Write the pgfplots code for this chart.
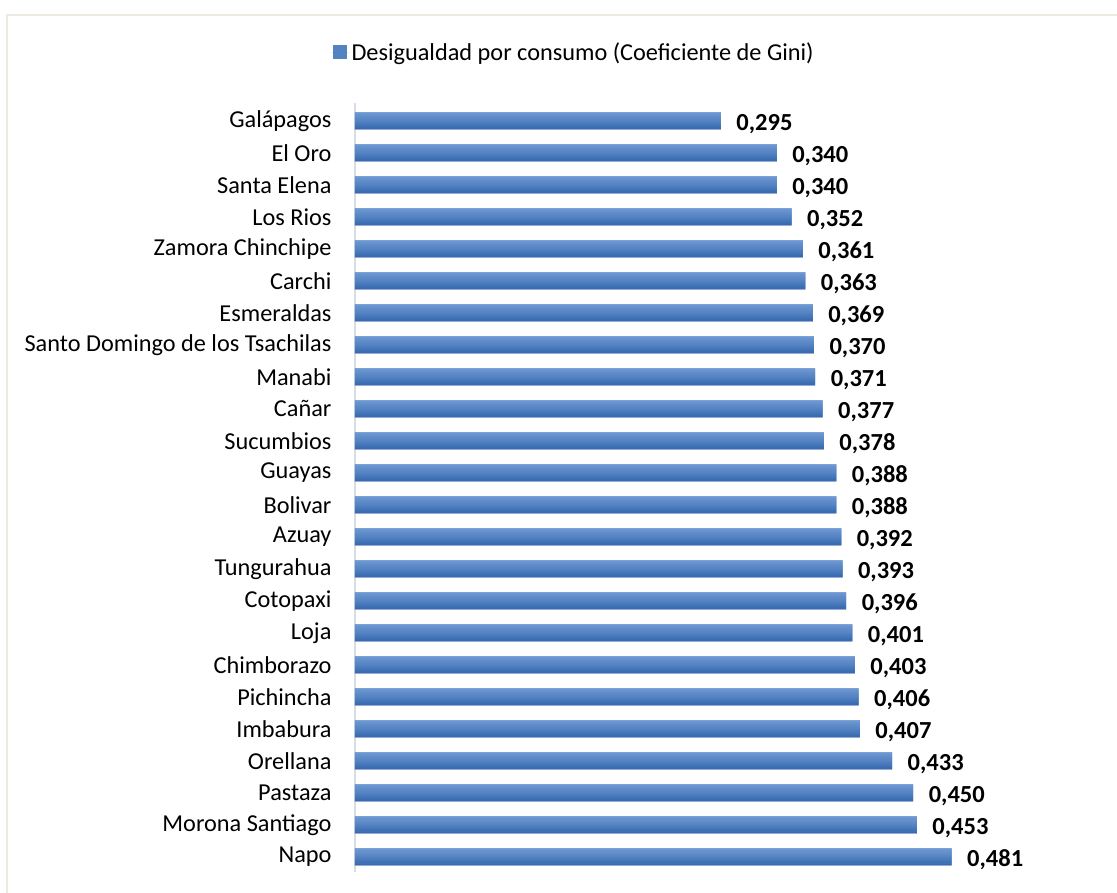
\documentclass[border=0pt]{standalone}
\usepackage{pgfplots}
\pgfplotsset{compat=1.18}
\usepackage{pgfplotstable}
\usepackage{fontspec}
\setmainfont{Carlito}
\definecolor{bartop}{HTML}{6F9AD3}
\definecolor{barbot}{HTML}{3A6BB1}
\definecolor{framec}{HTML}{EEEAE1}
\definecolor{axc}{HTML}{D6DEEA}
\pgfplotstableread{
x y lab
0.481 0 0,481
0.453 1 0,453
0.450 2 0,450
0.433 3 0,433
0.407 4 0,407
0.406 5 0,406
0.403 6 0,403
0.401 7 0,401
0.396 8 0,396
0.393 9 0,393
0.392 10 0,392
0.388 11 0,388
0.388 12 0,388
0.378 13 0,378
0.377 14 0,377
0.371 15 0,371
0.370 16 0,370
0.369 17 0,369
0.363 18 0,363
0.361 19 0,361
0.352 20 0,352
0.340 21 0,340
0.340 22 0,340
0.295 23 0,295
}\gini
\begin{document}
\begin{tikzpicture}[x=1pt,y=1pt]
\useasboundingbox (0,0) rectangle (1117,893);
\draw[framec, line width=2pt] (7,-5) -- (7,878) -- (1125,878);
\begin{axis}[
  at={(355pt,21pt)}, anchor=south west,
  scale only axis, width=686pt, height=769pt,
  xmin=0, xmax=0.553, ymin=-0.47, ymax=23.56,
  xbar, bar width=2.2pt,
  axis x line=none,
  axis y line*=left,
  y axis line style={axc, line width=1.6pt, -},
  ytick={0,...,23},
  yticklabels={Napo,Morona Santiago,Pastaza,Orellana,Imbabura,Pichincha,Chimborazo,Loja,Cotopaxi,Tungurahua,Azuay,Bolivar,Guayas,Sucumbios,Cañar,Manabi,Santo Domingo de los Tsachilas,Esmeraldas,Carchi,Zamora Chinchipe,Los Rios,Santa Elena,El Oro,Galápagos},
  yticklabel style={font=\fontsize{24.3}{28}\selectfont, text=black, xshift=-20pt},
  major tick length=0pt,
  point meta=explicit symbolic,
  nodes near coords style={font=\bfseries\fontsize{24.5}{28}\selectfont, anchor=west, xshift=12pt, yshift=-3pt, text=black},
  legend style={at={(0.318,1.066)}, anchor=center, draw=none, fill=none, font=\fontsize{24.3}{28}\selectfont, inner sep=0pt},
  legend image code/.code={\path (0pt,0pt) -- (19pt,0pt);\fill[bartop!50!barbot] (2pt,-7pt) rectangle (16pt,7pt);},
  clip=false,
]
\addplot[draw=none, fill=bartop!50!barbot, bar width=17pt, nodes near coords] table[x=x, y=y, meta=lab] {\gini};
\addlegendentry{Desigualdad por consumo (Coeficiente de Gini)}
\addplot[forget plot, draw=none, fill=bartop, bar shift=7.4pt] table[x=x, y=y] {\gini};
\addplot[forget plot, draw=none, fill=bartop!86!barbot, bar shift=5.3pt] table[x=x, y=y] {\gini};
\addplot[forget plot, draw=none, fill=bartop!72!barbot, bar shift=3.2pt] table[x=x, y=y] {\gini};
\addplot[forget plot, draw=none, fill=bartop!58!barbot, bar shift=1.1pt] table[x=x, y=y] {\gini};
\addplot[forget plot, draw=none, fill=bartop!44!barbot, bar shift=-1.0pt] table[x=x, y=y] {\gini};
\addplot[forget plot, draw=none, fill=bartop!30!barbot, bar shift=-3.1pt] table[x=x, y=y] {\gini};
\addplot[forget plot, draw=none, fill=bartop!15!barbot, bar shift=-5.2pt] table[x=x, y=y] {\gini};
\addplot[forget plot, draw=none, fill=barbot, bar shift=-7.4pt] table[x=x, y=y] {\gini};
\end{axis}
\end{tikzpicture}
\end{document}
